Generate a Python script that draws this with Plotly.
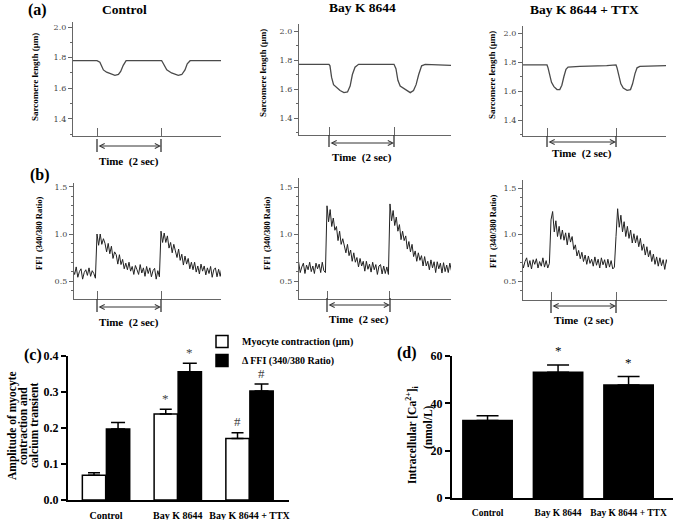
import plotly.graph_objects as go

W, H = 675, 520

# ------------------------------------------------------------------ data
stim_times = [1.0, 3.0]          # stimulation times (s); bracket = 2 s
panel_titles = ["Control", "Bay K 8644", "Bay K 8644 + TTX"]

# (a) sarcomere length traces: time (s), length (µm)
sl_ctrl_t = [0.0, 1.0, 1.09, 1.20, 1.30, 1.46, 1.56, 1.67, 1.74, 1.82, 1.91, 2.30, 2.60,
             3.02, 3.05, 3.18, 3.33, 3.54, 3.65, 3.75, 3.82, 3.91, 4.40, 5.0]
sl_ctrl_v = [1.78, 1.78, 1.77, 1.72, 1.705, 1.695, 1.685, 1.69, 1.71, 1.75, 1.78, 1.78, 1.779,
             1.78, 1.77, 1.72, 1.70, 1.685, 1.69, 1.72, 1.76, 1.78, 1.78, 1.78]
sl_bay_t = [0.0, 1.0, 1.03, 1.08, 1.14, 1.24, 1.34, 1.46, 1.57, 1.65, 1.72, 1.80, 1.91, 2.50,
            3.0, 3.06, 3.12, 3.19, 3.34, 3.50, 3.60, 3.68, 3.76, 3.85, 3.96, 4.32, 5.0]
sl_bay_v = [1.77, 1.77, 1.76, 1.68, 1.63, 1.61, 1.59, 1.575, 1.58, 1.62, 1.70, 1.75, 1.77, 1.77,
            1.77, 1.74, 1.66, 1.62, 1.60, 1.575, 1.59, 1.63, 1.70, 1.76, 1.77, 1.765, 1.76]
sl_ttx_t = [0.0, 1.0, 1.03, 1.08, 1.13, 1.20, 1.29, 1.37, 1.43, 1.49, 1.55, 1.61, 1.95, 2.73,
            3.0, 3.03, 3.08, 3.14, 3.21, 3.32, 3.42, 3.48, 3.55, 3.61, 3.69, 4.08, 5.0]
sl_ttx_v = [1.78, 1.78, 1.76, 1.70, 1.66, 1.63, 1.61, 1.61, 1.64, 1.70, 1.75, 1.765, 1.77, 1.775,
            1.78, 1.76, 1.70, 1.65, 1.62, 1.605, 1.61, 1.65, 1.72, 1.76, 1.77, 1.775, 1.78]

# (b) FFI (340/380 ratio) recordings, one sample every ffi_dt seconds from t = 0
ffi_dt = 0.05
ffi_ctrl = [0.61, 0.55, 0.64, 0.58, 0.53, 0.62, 0.57, 0.65, 0.54, 0.60, 0.63, 0.52, 0.59, 0.62, 0.56, 0.64, 0.55, 0.61, 0.58, 0.53,
            1.00, 0.88, 1.00, 0.89, 0.95, 0.90, 0.81, 0.90, 0.79, 0.87, 0.74, 0.81, 0.78, 0.68, 0.78, 0.675, 0.73, 0.63, 0.69, 0.62,
            0.70, 0.605, 0.655, 0.57, 0.665, 0.62, 0.57, 0.675, 0.585, 0.64, 0.55, 0.655, 0.58, 0.64, 0.545, 0.61, 0.635, 0.52, 0.61, 0.545,
            1.03, 0.91, 1.01, 0.91, 0.98, 0.85, 0.91, 0.80, 0.89, 0.82, 0.75, 0.84, 0.72, 0.785, 0.67, 0.765, 0.68, 0.74, 0.63, 0.70,
            0.62, 0.70, 0.595, 0.66, 0.575, 0.68, 0.605, 0.66, 0.565, 0.64, 0.58, 0.655, 0.54, 0.62, 0.64, 0.545, 0.625, 0.55, 0.64, 0.56, 0.60]
ffi_bay = [0.68, 0.61, 0.70, 0.59, 0.65, 0.69, 0.58, 0.67, 0.62, 0.70, 0.60, 0.66, 0.58, 0.69, 0.63, 0.68, 0.59, 0.70, 0.61, 0.59,
           1.30, 1.13, 1.26, 1.08, 1.17, 1.04, 1.08, 0.93, 1.03, 0.89, 0.95, 0.89, 0.80, 0.89, 0.77, 0.83, 0.71, 0.80, 0.70, 0.75,
           0.65, 0.74, 0.66, 0.71, 0.605, 0.71, 0.625, 0.68, 0.595, 0.70, 0.62, 0.675, 0.57, 0.66, 0.675, 0.575, 0.66, 0.58, 0.65, 0.57,
           1.32, 1.14, 1.25, 1.09, 1.18, 1.03, 1.10, 0.94, 1.03, 0.93, 0.98, 0.84, 0.92, 0.81, 0.89, 0.76, 0.82, 0.71, 0.80, 0.72,
           0.77, 0.66, 0.76, 0.66, 0.71, 0.62, 0.725, 0.64, 0.705, 0.59, 0.705, 0.63, 0.69, 0.585, 0.695, 0.60, 0.67, 0.59, 0.69, 0.61, 0.66]
ffi_ttx = [0.74, 0.66, 0.73, 0.64, 0.71, 0.75, 0.65, 0.72, 0.63, 0.73, 0.68, 0.74, 0.64, 0.71, 0.66, 0.75, 0.65, 0.72, 0.64, 0.69,
           1.16, 1.25, 1.03, 1.15, 0.98, 1.09, 0.95, 1.05, 0.94, 1.02, 0.89, 1.02, 0.92, 0.98, 0.84, 0.89, 0.77, 0.83, 0.74, 0.81,
           0.71, 0.78, 0.68, 0.77, 0.69, 0.735, 0.66, 0.76, 0.67, 0.735, 0.64, 0.75, 0.675, 0.73, 0.64, 0.735, 0.65, 0.72, 0.63, 0.65,
           0.98, 1.28, 1.08, 1.21, 1.03, 1.14, 0.98, 1.09, 0.96, 1.05, 0.91, 1.01, 0.91, 0.99, 0.87, 0.96, 0.83, 0.90, 0.78, 0.87,
           0.76, 0.83, 0.71, 0.79, 0.68, 0.76, 0.66, 0.75, 0.665, 0.73, 0.625, 0.73, 0.66, 0.72, 0.63, 0.71, 0.64, 0.73, 0.65, 0.70, 0.67]

# (c) amplitudes
groups = ["Control", "Bay K 8644", "Bay K 8644 + TTX"]
contraction = [0.069, 0.239, 0.171]
contraction_err = [0.007, 0.013, 0.016]
dffi = [0.197, 0.356, 0.303]
dffi_err = [0.018, 0.024, 0.019]
contraction_sig = ["", "*", "#"]
dffi_sig = ["", "*", "#"]

# (d) intracellular Ca2+
ca = [32.7, 53.1, 47.7]
ca_err = [2.1, 3.1, 3.6]
ca_sig = ["", "*", "*"]

# ------------------------------------------------------------------ helpers
def fx(px):
    return px / W


def fy(py):
    return 1 - py / H


SERIF = "Liberation Serif"
TICKF = "DejaVu Serif"
GREY = "#666"

fig = go.Figure()
layout = dict(width=W, height=H, margin=dict(l=0, r=0, t=0, b=0, autoexpand=False),
              paper_bgcolor="white", plot_bgcolor="white",
              barmode="group", bargap=0.33, bargroupgap=0.03,
              showlegend=True)
annotations = []
shapes = []


def label(px, py, text, size, angle=0, color="black", family=SERIF):
    annotations.append(dict(x=fx(px), y=fy(py), xref="paper", yref="paper", text=text,
                            textangle=angle, showarrow=False, xanchor="center", yanchor="middle",
                            font=dict(family=family, size=size, color=color)))


# panel geometry (pixels)
trace_panels = [
    # (a)
    dict(x=(73, 221), y=(22.4, 135.8), xr=[0.25, 4.875], yr=[1.29, 2.03],
         br=(139, 152, 146), tt=161),
    dict(x=(299, 451), y=(23.75, 135.4), xr=[0.077, 4.754], yr=[1.28, 2.05],
         br=(135, 147, 143), tt=157),
    dict(x=(523, 666), y=(25.75, 136.0), xr=[0.304, 4.449], yr=[1.29, 2.05],
         br=(136, 147, 142), tt=153),
    # (b)
    dict(x=(74, 221), y=(183.2, 298.9), xr=[0.281, 4.875], yr=[0.31, 1.54],
         br=(299, 312, 307), tt=322),
    dict(x=(299, 451), y=(177.6, 298.9), xr=[0.111, 4.937], yr=[0.31, 1.60],
         br=(298, 312, 305), tt=319),
    dict(x=(523, 667), y=(180.0, 300.0), xr=[0.138, 4.569], yr=[0.295, 1.59],
         br=(300, 313, 306), tt=320),
]

sl_series = [(sl_ctrl_t, sl_ctrl_v), (sl_bay_t, sl_bay_v), (sl_ttx_t, sl_ttx_v)]
ffi_series = [ffi_ctrl, ffi_bay, ffi_ttx]

for i, p in enumerate(trace_panels):
    n = i + 1
    xa = "xaxis" if n == 1 else f"xaxis{n}"
    ya = "yaxis" if n == 1 else f"yaxis{n}"
    xr_id = "x" if n == 1 else f"x{n}"
    yr_id = "y" if n == 1 else f"y{n}"
    is_a = i < 3
    layout[xa] = dict(domain=[fx(p["x"][0]), fx(p["x"][1])], range=p["xr"], anchor=yr_id,
                      showgrid=False, zeroline=False, showline=True, linecolor=GREY, linewidth=1.2,
                      tickvals=stim_times, ticks="inside", ticklen=8, tickcolor=GREY, tickwidth=1.2,
                      showticklabels=False, fixedrange=True)
    yax = dict(domain=[fy(p["y"][1]), fy(p["y"][0])], range=p["yr"], anchor=xr_id,
               showgrid=False, zeroline=False, showline=True, linecolor=GREY, linewidth=1.2,
               ticks="outside", ticklen=4, tickcolor=GREY, tickwidth=1,
               tickfont=dict(family=TICKF, size=8, color="#444"), tickformat=".1f",
               fixedrange=True)
    if is_a:
        yax.update(tickvals=[1.4, 1.6, 1.8, 2.0],
                   minor=dict(tickvals=[1.3, 1.5, 1.7, 1.9], ticks="outside", ticklen=2, tickcolor=GREY))
    else:
        yax.update(tickvals=[0.5, 1.0, 1.5],
                   minor=dict(tickvals=[0.4, 0.6, 0.7, 0.8, 0.9, 1.1, 1.2, 1.3, 1.4],
                              ticks="outside", ticklen=2, tickcolor=GREY))
    layout[ya] = yax

    if is_a:
        t, v = sl_series[i]
        fig.add_trace(go.Scatter(x=t, y=v, mode="lines", xaxis=xr_id, yaxis=yr_id,
                                 line=dict(color="#4a4a4a", width=1.3), showlegend=False,
                                 hoverinfo="skip"))
    else:
        vals = ffi_series[i - 3]
        t = [k * ffi_dt for k in range(len(vals))]
        fig.add_trace(go.Scatter(x=t, y=vals, mode="lines", xaxis=xr_id, yaxis=yr_id,
                                 line=dict(color="#222", width=1), showlegend=False,
                                 hoverinfo="skip"))

    # 2-s bracket below the time axis
    b0, b1, bar_y = p["br"]
    for st in stim_times:
        shapes.append(dict(type="line", xref=xr_id, yref="paper", x0=st, x1=st,
                           y0=fy(b0), y1=fy(b1), line=dict(color="#333", width=1.3)))
    annotations.append(dict(x=stim_times[1], y=fy(bar_y), xref=xr_id, yref="paper",
                            ax=stim_times[0], ay=0, axref=xr_id, ayref="pixel", text="",
                            showarrow=True, arrowhead=5, startarrowhead=5, arrowside="end+start",
                            arrowsize=1, arrowwidth=1, arrowcolor="#333", standoff=0, startstandoff=0))
    annotations.append(dict(x=(stim_times[0] + stim_times[1]) / 2, y=fy(p["tt"]), xref=xr_id,
                            yref="paper", text="<b>Time  (2 sec)</b>", showarrow=False,
                            xanchor="center", yanchor="middle",
                            font=dict(family=SERIF, size=11, color="black")))

# panel y titles for (a) and (b)
for (px, py) in [(35, 77), (263, 73), (492, 75)]:
    label(px, py, "<b>Sarcomere length (µm)</b>", 9, angle=-90)
for (px, py) in [(39, 233), (267, 233), (493, 231)]:
    label(px, py, "<b>FFI  (340/380 Ratio)</b>", 8.5, angle=-90)

# column titles
for title, (px, py) in zip(panel_titles, [(124, 9), (362, 8), (584, 9)]):
    label(px, py, f"<b>{title}</b>", 13.5)

# panel letters
for lab, (px, py) in [("(a)", (37, 10)), ("(b)", (40, 175)), ("(c)", (33, 355)), ("(d)", (407, 353))]:
    label(px, py, f"<b>{lab}</b>", 16)

# ------------------------------------------------------------------ (c)
bar_line = dict(color="black", width=1.5)
fig.add_trace(go.Bar(x=groups, y=contraction, name="Myocyte contraction (µm)", xaxis="x7", yaxis="y7",
                     marker=dict(color="white", line=bar_line), hoverinfo="skip",
                     error_y=dict(type="data", array=contraction_err, arrayminus=[0] * 3, symmetric=False,
                                  color="black", thickness=1.5, width=6)))
fig.add_trace(go.Bar(x=groups, y=dffi, name="Δ FFI (340/380 Ratio)", xaxis="x7", yaxis="y7",
                     marker=dict(color="black", line=bar_line), hoverinfo="skip",
                     error_y=dict(type="data", array=dffi_err, arrayminus=[0] * 3, symmetric=False,
                                  color="black", thickness=1.5, width=7)))
layout["xaxis7"] = dict(domain=[fx(68), fx(289)], range=[-0.53, 2.55], anchor="y7", type="category",
                        showgrid=False, zeroline=False, showline=True, linecolor="black", linewidth=2,
                        ticks="", ticklabelstandoff=5,
                        tickfont=dict(family=SERIF, size=10, color="black", weight="bold"),
                        fixedrange=True)
layout["yaxis7"] = dict(domain=[fy(500), fy(356)], range=[0, 0.4], anchor="x7",
                        showgrid=False, zeroline=False, showline=True, linecolor="black", linewidth=2,
                        ticks="outside", ticklen=5, tickwidth=1.5, tickcolor="black",
                        tickvals=[0, 0.1, 0.2, 0.3, 0.4], tickformat=".1f", fixedrange=True,
                        tickfont=dict(family=SERIF, size=12, color="black", weight="bold"))
half = (1 - layout["bargap"]) / 4
for k in range(3):
    for vals, errs, sig, off in [(contraction, contraction_err, contraction_sig, -half),
                                 (dffi, dffi_err, dffi_sig, half)]:
        if sig[k]:
            annotations.append(dict(x=k + off, y=vals[k] + errs[k] + 0.004, xref="x7", yref="y7",
                                    text=sig[k], showarrow=False, yanchor="bottom",
                                    font=dict(family=SERIF, size=13, color="#444")))
for (px, txt) in [(12, "Amplitude of myocyte"), (23, "contraction and"), (34, "calcium transient")]:
    label(px, 426, f"<b>{txt}</b>", 11.5, angle=-90)

# ------------------------------------------------------------------ (d)
fig.add_trace(go.Bar(x=groups, y=ca, xaxis="x8", yaxis="y8", width=0.7, showlegend=False,
                     marker=dict(color="black", line=bar_line), hoverinfo="skip",
                     error_y=dict(type="data", array=ca_err, arrayminus=[0] * 3, symmetric=False,
                                  color="black", thickness=1.5, width=11)))
layout["xaxis8"] = dict(domain=[fx(452), fx(673)], range=[-0.504, 2.63], anchor="y8", type="category",
                        showgrid=False, zeroline=False, showline=True, linecolor="black", linewidth=2,
                        ticks="", ticklabelstandoff=5,
                        tickfont=dict(family=SERIF, size=9.5, color="black", weight="bold"),
                        fixedrange=True)
layout["yaxis8"] = dict(domain=[fy(498), fy(356)], range=[0, 60], anchor="x8",
                        showgrid=False, zeroline=False, showline=True, linecolor="black", linewidth=2,
                        ticks="outside", ticklen=5, tickwidth=1.5, tickcolor="black",
                        tickvals=[0, 20, 40, 60], fixedrange=True,
                        tickfont=dict(family=SERIF, size=12, color="black", weight="bold"))
for k in range(3):
    if ca_sig[k]:
        annotations.append(dict(x=k, y=ca[k] + ca_err[k] + 2.0, xref="x8", yref="y8", text=ca_sig[k],
                                showarrow=False, yanchor="bottom",
                                font=dict(family=SERIF, size=13, color="black")))
label(412, 435, "<b>Intracellular [Ca<sup>2+</sup>]<sub>i</sub></b>", 11.5, angle=-90)
label(428, 427, "<b>(nmol/L)</b>", 11.5, angle=-90)

layout["legend"] = dict(x=fx(202), y=fy(327), xanchor="left", yanchor="top",
                        font=dict(family=SERIF, size=10, color="black", weight="bold"),
                        bgcolor="rgba(0,0,0,0)", tracegroupgap=0, traceorder="normal",
                        itemclick=False, itemdoubleclick=False)
layout["annotations"] = annotations
layout["shapes"] = shapes
fig.update_layout(**layout)
fig.write_html("out.html", config={"displayModeBar": False, "staticPlot": False},
               post_script="document.body.style.margin='0';document.body.style.padding='0';")
